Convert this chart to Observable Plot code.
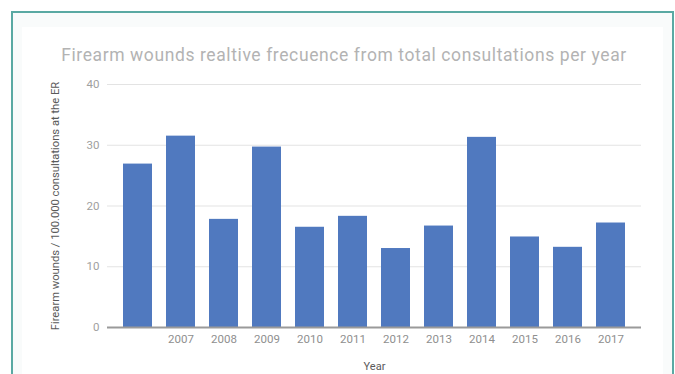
<!DOCTYPE html>
<html>
<head>
<meta charset="utf-8">
<script src="https://cdn.jsdelivr.net/npm/d3@7"></script>
<script src="https://cdn.jsdelivr.net/npm/@observablehq/plot@0.6"></script>
<style>
  html, body { margin: 0; padding: 0; background: #ffffff; }
  #wrap { position: relative; width: 675px; height: 374px; overflow: hidden; font-family: Roboto, "Noto Sans", sans-serif; }
  #frame { position: absolute; left: 11px; top: 11px; width: 659px; height: 400px; border: 2px solid #5aa9a3; background: #f9fbfb; }
  #panel { position: absolute; left: 22px; top: 27px; width: 641px; height: 400px; background: #ffffff; }
  #title { position: absolute; left: 0; width: 688px; top: 45px; text-align: center; font-size: 17.5px; letter-spacing: 0.6px; color: #b3b3b3; white-space: nowrap; }
  #chart { position: absolute; left: 0; top: 0; }
</style>
</head>
<body>
<div id="wrap">
  <div id="frame"></div>
  <div id="panel"></div>
  <div id="title">Firearm wounds realtive frecuence from total consultations per year</div>
  <div id="chart"></div>
</div>
<script>
// Year labels (the first bar carries no label on the axis)
const years = ["", "2007", "2008", "2009", "2010", "2011", "2012", "2013", "2014", "2015", "2016", "2017"];
// Firearm wounds per 100.000 ER consultations
const rates = [26.9, 31.5, 17.8, 29.7, 16.5, 18.3, 13.0, 16.7, 31.3, 14.9, 13.2, 17.2];
const yTicks = [0, 10, 20, 30, 40];

const data = years.map((year, i) => ({year, rate: rates[i]}));

const chart = Plot.plot({
  width: 675,
  height: 374,
  marginLeft: 107,
  marginRight: 34,
  marginTop: 84,
  marginBottom: 47,
  style: {background: "transparent", fontFamily: "Roboto, 'Noto Sans', sans-serif", fontSize: "11px"},
  x: {domain: years, padding: 0.33, label: null},
  y: {domain: [0, 40], label: null},
  marks: [
    Plot.gridY(yTicks, {stroke: "#e3e3e3", strokeOpacity: 1}),
    Plot.barY(data, {x: "year", y: "rate", fill: "#5079bf"}),
    Plot.ruleY([0], {stroke: "#9a9a9a", strokeWidth: 2}),
    Plot.axisY(yTicks, {tickSize: 0, tickPadding: 8, fill: "#a0a0a0", fontSize: 11.5, label: null}),
    Plot.axisX({tickSize: 0, tickPadding: 7, fill: "#8f8f8f", fontSize: 11.5, label: null}),
    Plot.text(["Year"], {frameAnchor: "bottom", dy: 42, fill: "#5a5a5a", fontSize: 11}),
    Plot.text(["Firearm wounds / 100.000 consultations at the ER"], {frameAnchor: "left", dx: -52, rotate: -90, textAnchor: "middle", fill: "#5a5a5a", fontSize: 11.2})
  ]
});
document.getElementById("chart").appendChild(chart);
</script>
</body>
</html>
